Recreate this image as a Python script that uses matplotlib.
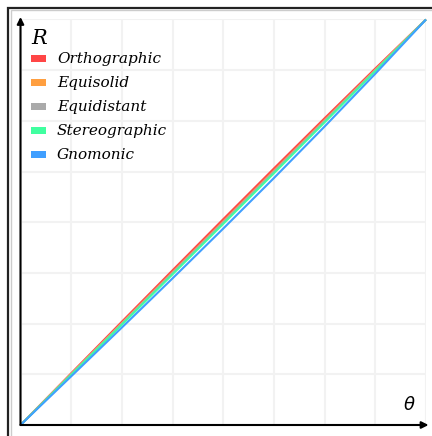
import matplotlib
matplotlib.use('Agg')
import matplotlib.pyplot as plt
from matplotlib.patches import Rectangle

# projection curves (grid units, 0..8)
theta = [0, 1, 2, 3, 4, 5, 6, 7, 8]
orthographic = [0, 1.020, 2.038, 3.052, 4.060, 5.061, 6.052, 7.033, 8]
equisolid = [0, 1.005, 2.010, 3.013, 4.015, 5.016, 6.013, 7.008, 8]
equidistant = [0, 1, 2, 3, 4, 5, 6, 7, 8]
stereographic = [0, 0.990, 1.981, 2.973, 3.969, 4.968, 5.972, 6.982, 8]
gnomonic = [0, 0.960, 1.923, 2.893, 3.875, 4.872, 5.889, 6.930, 8]

names = ['Orthographic', 'Equisolid', 'Equidistant', 'Stereographic', 'Gnomonic']
series = [orthographic, equisolid, equidistant, stereographic, gnomonic]
colors = ['#ff4646', '#ff9f40', '#aaaaaa', '#40ffa0', '#409fff']

W, H = 432, 436
fig = plt.figure(figsize=(W/100, H/100), dpi=100)

def px(x, y):
    return x/W, 1 - y/H

# outer frame
fig.patches.append(Rectangle(px(8, 460), (W + 20)/W, 452/H, transform=fig.transFigure,
                             fill=False, ec='#222222', lw=1.6))
fig.patches.append(Rectangle(px(10.5, 460), (W + 20)/W, 449.5/H, transform=fig.transFigure,
                             fill=False, ec='#cccccc', lw=1.0))

x0, y0, x1, y1 = 20.5, 425, 426, 19.5
ax = fig.add_axes([x0/W, (H - y0)/H, (x1 - x0)/W, (y0 - y1)/H])
ax.set_xlim(0, 8)
ax.set_ylim(0, 8)
for s in ax.spines.values():
    s.set_visible(False)
ax.set_xticks(range(9))
ax.set_yticks(range(9))
ax.tick_params(length=0, labelbottom=False, labelleft=False)
ax.grid(True, color='#f2f2f2', lw=1.5)
ax.set_axisbelow(True)

for ys, c in zip(series, colors):
    ax.plot(theta, ys, color=c, lw=1.5, clip_on=False, solid_capstyle='butt')

# axes with arrows
ax.annotate('', xy=(8.05, 0), xytext=(0, 0), xycoords='data',
            arrowprops=dict(arrowstyle='-|>', color='black', lw=1.5, mutation_scale=10,
                            shrinkA=0, shrinkB=0), annotation_clip=False)
ax.annotate('', xy=(0, 8.05), xytext=(0, 0), xycoords='data',
            arrowprops=dict(arrowstyle='-|>', color='black', lw=1.5, mutation_scale=10,
                            shrinkA=0, shrinkB=0), annotation_clip=False)

fig.text(*px(31, 38), 'R', family='DejaVu Serif', style='italic', fontsize=15,
         va='center', ha='left')
fig.text(*px(409, 405), r'$\theta$', fontsize=13, va='center', ha='center')

# legend
for i, (n, c) in enumerate(zip(names, colors)):
    yc = 59 + i*24
    fig.patches.append(Rectangle(px(31, yc + 3.5), 15/W, 7/H, transform=fig.transFigure,
                                 color=c, lw=0))
    fig.text(*px(57, yc), n, family='DejaVu Serif', style='italic', fontsize=11,
             va='center', ha='left')

fig.savefig('out.png', dpi=100)
